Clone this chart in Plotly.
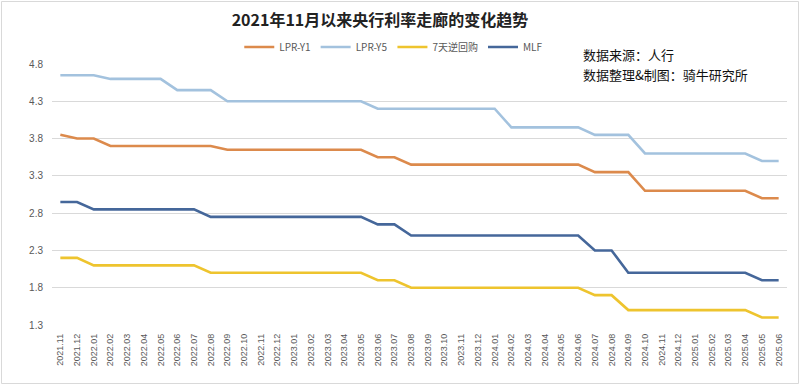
import plotly.graph_objects as go

months = ["2021.11", "2021.12",
          "2022.01", "2022.02", "2022.03", "2022.04", "2022.05", "2022.06",
          "2022.07", "2022.08", "2022.09", "2022.10", "2022.11", "2022.12",
          "2023.01", "2023.02", "2023.03", "2023.04", "2023.05", "2023.06",
          "2023.07", "2023.08", "2023.09", "2023.10", "2023.11", "2023.12",
          "2024.01", "2024.02", "2024.03", "2024.04", "2024.05", "2024.06",
          "2024.07", "2024.08", "2024.09", "2024.10", "2024.11", "2024.12",
          "2025.01", "2025.02", "2025.03", "2025.04", "2025.05", "2025.06"]

lpr_y1 = [3.85, 3.80, 3.80, 3.70, 3.70, 3.70, 3.70, 3.70, 3.70, 3.70,
          3.65, 3.65, 3.65, 3.65, 3.65, 3.65, 3.65, 3.65, 3.65, 3.55,
          3.55, 3.45, 3.45, 3.45, 3.45, 3.45, 3.45, 3.45, 3.45, 3.45,
          3.45, 3.45, 3.35, 3.35, 3.35, 3.10, 3.10, 3.10, 3.10, 3.10,
          3.10, 3.10, 3.00, 3.00]

lpr_y5 = [4.65, 4.65, 4.65, 4.60, 4.60, 4.60, 4.60, 4.45, 4.45, 4.45,
          4.30, 4.30, 4.30, 4.30, 4.30, 4.30, 4.30, 4.30, 4.30, 4.20,
          4.20, 4.20, 4.20, 4.20, 4.20, 4.20, 4.20, 3.95, 3.95, 3.95,
          3.95, 3.95, 3.85, 3.85, 3.85, 3.60, 3.60, 3.60, 3.60, 3.60,
          3.60, 3.60, 3.50, 3.50]

repo_7d = [2.20, 2.20, 2.10, 2.10, 2.10, 2.10, 2.10, 2.10, 2.10, 2.00,
           2.00, 2.00, 2.00, 2.00, 2.00, 2.00, 2.00, 2.00, 2.00, 1.90,
           1.90, 1.80, 1.80, 1.80, 1.80, 1.80, 1.80, 1.80, 1.80, 1.80,
           1.80, 1.80, 1.70, 1.70, 1.50, 1.50, 1.50, 1.50, 1.50, 1.50,
           1.50, 1.50, 1.40, 1.40]

mlf = [2.95, 2.95, 2.85, 2.85, 2.85, 2.85, 2.85, 2.85, 2.85, 2.75,
       2.75, 2.75, 2.75, 2.75, 2.75, 2.75, 2.75, 2.75, 2.75, 2.65,
       2.65, 2.50, 2.50, 2.50, 2.50, 2.50, 2.50, 2.50, 2.50, 2.50,
       2.50, 2.50, 2.30, 2.30, 2.00, 2.00, 2.00, 2.00, 2.00, 2.00,
       2.00, 2.00, 1.90, 1.90]

y_ticks = [1.3, 1.8, 2.3, 2.8, 3.3, 3.8, 4.3, 4.8]

series = [
    ("LPR-Y1", lpr_y1, "#DC8A4C"),
    ("LPR-Y5", lpr_y5, "#A3C2DE"),
    ("7天逆回购", repo_7d, "#EEC42E"),
    ("MLF", mlf, "#45679A"),
]

fig = go.Figure()
for name, vals, color in series:
    fig.add_trace(go.Scatter(
        x=months, y=vals, name=name, mode="lines",
        line=dict(color=color, width=2.6),
    ))

L, R, T, B = 52, 13, 64, 60
W, H = 800, 385
pw, ph = W - L - R, H - T - B

fig.update_layout(
    width=W, height=H,
    margin=dict(l=L, r=R, t=T, b=B, autoexpand=False),
    paper_bgcolor="white", plot_bgcolor="white",
    font=dict(family="Noto Sans CJK SC, sans-serif", color="#595959"),
    title=dict(
        text="<b>2021年11月以来央行利率走廊的变化趋势</b>",
        x=0.475, xanchor="center", y=1 - 20 / H, yanchor="middle",
        font=dict(size=16, color="#222222", family="Noto Sans CJK SC"),
    ),
    showlegend=True,
    legend=dict(
        orientation="h", x=0.465, xanchor="center",
        y=1 + (T - 47) / ph, yanchor="middle",
        font=dict(size=10, color="#595959"),
        itemwidth=30, tracegroupgap=0,
        bgcolor="rgba(0,0,0,0)",
    ),
    xaxis=dict(
        type="category", range=[-0.5, len(months) - 0.5],
        tickangle=-90, tickfont=dict(size=9, color="#595959",
                                     family="Liberation Sans, sans-serif"),
        showgrid=False, showline=False, zeroline=False, ticks="",
        ticklabelstandoff=6, automargin=False,
    ),
    yaxis=dict(
        range=[1.3, 4.8], tickvals=y_ticks,
        ticktext=[f"{v:.1f}" for v in y_ticks],
        tickfont=dict(size=10, color="#595959",
                      family="Liberation Sans, sans-serif"),
        showgrid=True, gridcolor="#D9D9D9", gridwidth=1,
        zeroline=False, showline=False, ticks="",
        ticklabelstandoff=8, automargin=False,
    ),
    annotations=[
        dict(
            text="数据来源：人行",
            xref="paper", yref="paper",
            x=(581 - L) / pw, xanchor="left",
            y=1 + (T - 55) / ph, yanchor="middle",
            align="left", showarrow=False,
            font=dict(size=13, color="#111111", family="Noto Sans CJK SC"),
        ),
        dict(
            text="数据整理&制图：骑牛研究所",
            xref="paper", yref="paper",
            x=(581 - L) / pw, xanchor="left",
            y=1 + (T - 74) / ph, yanchor="middle",
            align="left", showarrow=False,
            font=dict(size=13, color="#111111", family="Noto Sans CJK SC"),
        ),
    ],
    shapes=[
        dict(
            type="rect", xref="paper", yref="paper",
            x0=(1.5 - L) / pw, x1=(W - 1.5 - L) / pw,
            y0=-(B - 1.5) / ph, y1=1 + (T - 1.5) / ph,
            line=dict(color="#D9D9D9", width=1), layer="below",
        )
    ],
)

fig.write_html(
    "out.html",
    config={"displayModeBar": False},
    post_script="document.body.style.margin='0';document.body.style.overflow='hidden';",
)
